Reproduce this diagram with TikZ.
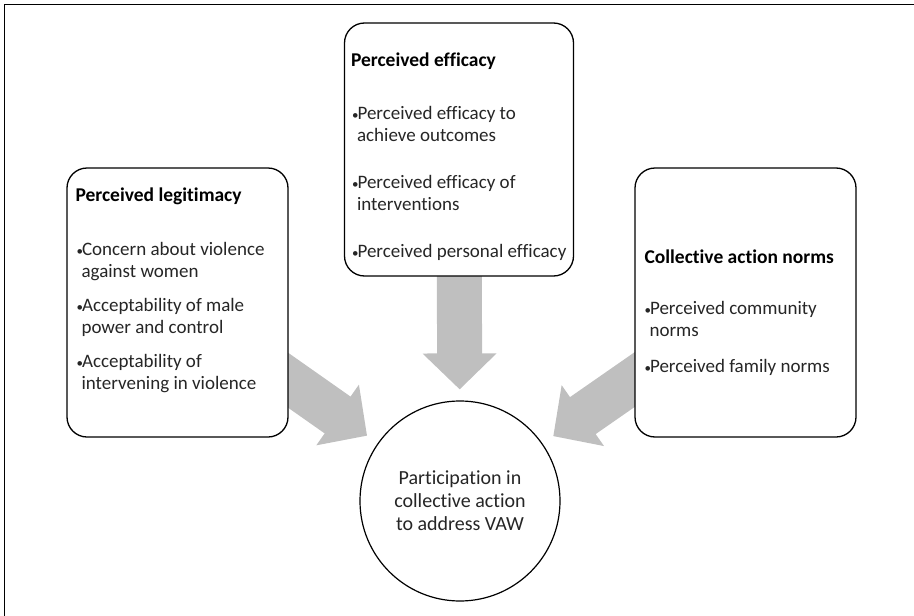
\documentclass[tikz,border=0pt]{standalone}
\usepackage{fontspec}
\setmainfont{Carlito}[Ligatures=NoCommon]
\usetikzlibrary{arrows.meta,positioning,backgrounds}
\definecolor{arrowgrey}{RGB}{191,191,191}
\definecolor{textgrey}{RGB}{38,38,38}
\newcommand{\bul}{\makebox[5.5pt][l]{\raisebox{0.5pt}{\fontsize{13}{13}\selectfont\textbullet}}}
\newcommand{\cont}{\hspace*{5pt}}

\begin{document}
\begin{tikzpicture}[x=1pt,y=-1pt,
  box/.style={draw, line width=1.3pt, rounded corners=20pt, fill=white,
    minimum width=221pt, minimum height=269pt},
  title/.style={anchor=west, inner sep=0pt, font=\fontsize{19.5}{23}\selectfont\bfseries},
  items/.style={anchor=north west, align=left, inner sep=0pt, text=textgrey,
    font=\fontsize{19}{22}\selectfont},
  bigarrow/.style={arrowgrey, line width=45pt, -{Triangle[length=36pt,width=72pt]}}]
  \useasboundingbox (0,0) rectangle (914,616);
  \draw[line width=1.5pt] (4.5,616) -- (4.5,4.5) -- (914,4.5);

  % three boxes
  \node[box] (legit) at (177.5,302.5) {};
  \node[box, minimum width=229pt, minimum height=253pt] (efficacy) at (459,149.5) {};
  \node[box] (norms) at (745.5,302.5) {};

  \node[title] (legit-title) at ([xshift=9pt,yshift=-29pt]legit.north west) {Perceived legitimacy};
  \node[items] (legit-items) at ([xshift=10pt,yshift=-75pt]legit.north west)
    {\bul Concern about violence\\ \cont against women\\[12pt]
     \bul Acceptability of male\\ \cont power and control\\[12pt]
     \bul Acceptability of\\ \cont intervening in violence};

  \node[title] (efficacy-title) at ([xshift=7pt,yshift=-39pt]efficacy.north west) {Perceived efficacy};
  \node[items] (efficacy-items) at ([xshift=8pt,yshift=-84pt]efficacy.north west)
    {\bul Perceived efficacy to\\ \cont achieve outcomes\\[25pt]
     \bul Perceived efficacy of\\ \cont interventions\\[25pt]
     \bul Perceived personal efficacy};

  \node[title] (norms-title) at ([xshift=10pt,yshift=-89pt]norms.north west) {Collective action norms};
  \node[items] (norms-items) at ([xshift=10pt,yshift=-134pt]norms.north west)
    {\bul Perceived community\\ \cont norms\\[14pt]
     \bul Perceived family norms};

  % outcome
  \node[draw, circle, line width=1.2pt, fill=white, minimum size=200pt, align=center,
    text=textgrey, font=\fontsize{20}{23}\selectfont] (vaw) at (460,501)
    {Participation in\\collective action\\to address VAW};

  \begin{scope}[on background layer]
    \draw[bigarrow, shorten >=13pt] (legit.center) -- (vaw);
    \draw[bigarrow, shorten >=11pt] (efficacy.center) -- (vaw);
    \draw[bigarrow, shorten >=13pt] (norms.center) -- (vaw);
  \end{scope}
\end{tikzpicture}
\end{document}
